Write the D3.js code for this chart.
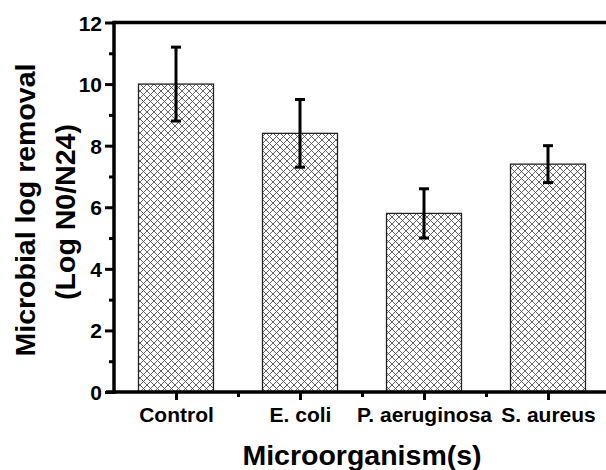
<!DOCTYPE html>
<html><head><meta charset="utf-8">
<script src="https://cdn.jsdelivr.net/npm/d3@7"></script>
<style>body{margin:0;background:#fff}svg{display:block}text{font-family:"Liberation Sans",Arial,sans-serif;font-weight:bold;fill:#000}</style>
</head><body><svg id="c" width="606" height="470"></svg>
<script>
const categories = ["Control", "E. coli", "P. aeruginosa", "S. aureus"];
const values = [10.0, 8.4, 5.8, 7.4];
const errors = [1.2, 1.1, 0.8, 0.6];
const yTicks = [0, 2, 4, 6, 8, 10, 12];
const yMinorTicks = [1, 3, 5, 7, 9, 11];
const xMinorTicks = [1.5, 2.5, 3.5];

const svg = d3.select("#c");
const mLeft = 114, mBottom = 392, mTop = 22.5, plotRight = 610;
const x = d3.scaleLinear().domain([0.5, 4.5]).range([mLeft, plotRight]);
const y = d3.scaleLinear().domain([0, 12]).range([mBottom, mTop]);
const barW = 75;
const FONT = '"Liberation Sans",Arial,sans-serif';

const defs = svg.append("defs");
const pat = defs.append("pattern").attr("id", "hatch").attr("patternUnits", "userSpaceOnUse")
  .attr("width", 7).attr("height", 7);
pat.append("rect").attr("width", 7).attr("height", 7).attr("fill", "#fff");
pat.append("path").attr("d", "M0,0L7,7M7,0L0,7M-1,6L1,8M6,-1L8,1M-1,1L1,-1M6,8L8,6")
  .attr("stroke", "#555").attr("stroke-width", 0.9);

// bars
svg.selectAll("rect.bar").data(values).join("rect").attr("class", "bar")
  .attr("x", (d, i) => x(i + 1) - barW / 2).attr("width", barW)
  .attr("y", d => y(d)).attr("height", d => y(0) - y(d))
  .attr("fill", "url(#hatch)").attr("stroke", "#222").attr("stroke-width", 1.3);

// error bars
const eg = svg.append("g").attr("stroke", "#000").attr("stroke-width", 3);
values.forEach((v, i) => {
  const cx = x(i + 1);
  eg.append("line").attr("x1", cx).attr("x2", cx).attr("y1", y(v + errors[i])).attr("y2", y(v - errors[i]));
  eg.append("line").attr("x1", cx - 5).attr("x2", cx + 5).attr("y1", y(v + errors[i])).attr("y2", y(v + errors[i]));
  eg.append("line").attr("x1", cx - 5).attr("x2", cx + 5).attr("y1", y(v - errors[i])).attr("y2", y(v - errors[i]));
});

// top frame line
svg.append("line").attr("x1", mLeft).attr("x2", 606).attr("y1", mTop).attr("y2", mTop).attr("stroke", "#000").attr("stroke-width", 3.5);

// y axis
const yAxis = d3.axisLeft(y).tickValues(yTicks).tickFormat(d3.format("d")).tickSize(9).tickPadding(3);
const gy = svg.append("g").attr("transform", `translate(${mLeft},0)`).call(yAxis);
gy.select(".domain").attr("stroke-width", 3.5).attr("d", `M0,${mTop - 1.7}V${mBottom + 1.7}`);
gy.selectAll(".tick line").attr("stroke-width", 3);
gy.selectAll(".tick text").style("font-size", "21px").style("font-family", FONT).style("font-weight", "bold").attr("dy", "0.36em");
const gym = svg.append("g").attr("transform", `translate(${mLeft},0)`)
  .call(d3.axisLeft(y).tickValues(yMinorTicks).tickSize(5).tickFormat(""));
gym.select(".domain").remove();
gym.selectAll(".tick line").attr("stroke-width", 3);

// x axis
const xAxis = d3.axisBottom(x).tickValues([1, 2, 3, 4]).tickFormat((d) => categories[d - 1]).tickSize(8).tickPadding(8);
const gx = svg.append("g").attr("transform", `translate(0,${mBottom})`).call(xAxis);
gx.select(".domain").attr("stroke-width", 3.5).attr("d", `M${mLeft - 8},0H606`);
gx.selectAll(".tick line").attr("stroke-width", 3);
gx.selectAll(".tick text").style("font-size", "21px").style("font-family", FONT).style("font-weight", "bold")
  .attr("dy", null).attr("y", 30);
const gxm = svg.append("g").attr("transform", `translate(0,${mBottom})`)
  .call(d3.axisBottom(x).tickValues(xMinorTicks).tickSize(5).tickFormat(""));
gxm.select(".domain").remove();
gxm.selectAll(".tick line").attr("stroke-width", 3);

// titles
svg.append("text").attr("x", 362).attr("y", 465).attr("text-anchor", "middle").style("font-size", "28.5px").text("Microorganism(s)");
svg.append("text").attr("transform", "translate(35,210) rotate(-90)").attr("text-anchor", "middle").style("font-size", "28.5px").text("Microbial log removal");
svg.append("text").attr("transform", "translate(75,212) rotate(-90)").attr("text-anchor", "middle").style("font-size", "28.5px").text("(Log N0/N24)");
</script></body></html>
